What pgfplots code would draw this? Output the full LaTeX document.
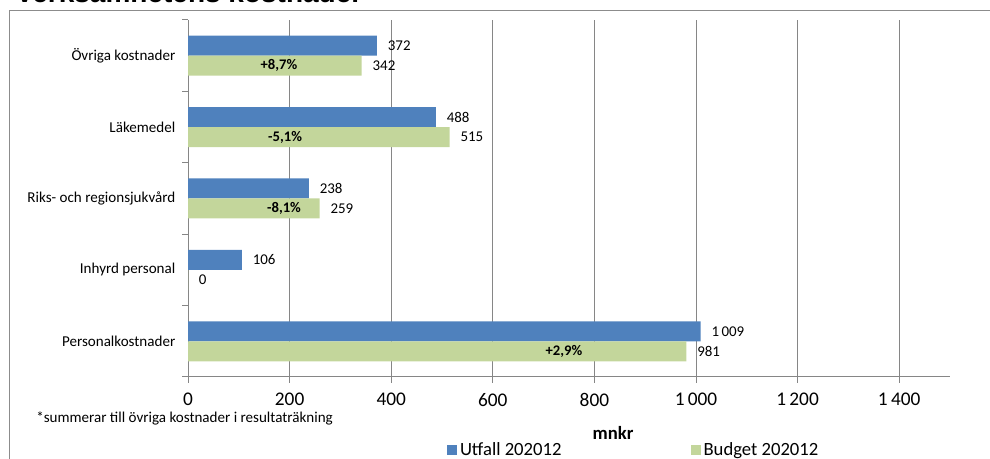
\documentclass[border=0pt]{standalone}
\usepackage{fontspec}
\setmainfont{Carlito}
\newfontfamily\titlefont{Liberation Sans}
\usepackage{pgfplots}
\pgfplotsset{compat=1.18}
\definecolor{cblue}{HTML}{4F81BD}
\definecolor{cgreen}{HTML}{C3D69B}
\definecolor{cgrid}{HTML}{868686}
\definecolor{cframe}{HTML}{8C8C8C}
\begin{document}
\begin{tikzpicture}
\path[use as bounding box, clip] (0,0) rectangle (742.5pt,344.25pt);
\begin{scope}[x=0.75pt,y=-0.75pt,shift={(0pt,344.25pt)}]
 \draw[cframe, line width=0.75pt] (9.5,470) -- (9.5,11) -- (1000,11);
 \node[anchor=base west, inner sep=0pt, font=\titlefont\bfseries\fontsize{21}{24}\selectfont] at (15,3) {Verksamhetens kostnader};
 \node[anchor=west, inner sep=0pt, font=\fontsize{11.3}{13}\selectfont] at (36,418) {*summerar till övriga kostnader i resultaträkning};
 \node[inner sep=0pt, font=\bfseries\fontsize{14}{16}\selectfont] at (613,433) {mnkr};
\end{scope}
\begin{axis}[
  at={(141pt,61.5pt)}, anchor=south west,
  scale only axis, width=571.5pt, height=267.75pt,
  xbar, bar width=15pt,
  xmin=0, xmax=1500, ymin=-0.5, ymax=4.5,
  axis lines*=left,
  axis line style={cgrid, line width=0.75pt},
  every tick/.style={cgrid, line width=0.75pt},
  tick align=outside, major tick length=4.5pt,
  xtick={0,200,...,1400},
  xticklabels={0,200,400,600,800,1\,000,1\,200,1\,400},
  x tick label style={font=\fontsize{14.5}{17}\selectfont, inner sep=0pt, yshift=-7.5pt},
  xmajorgrids, grid style={cgrid, line width=0.75pt},
  ytick={-0.5,0.5,...,4.5}, yticklabels={},
  extra y ticks={0,1,2,3,4},
  extra y tick labels={Personalkostnader,Inhyrd personal,Riks- och regionsjukvård,Läkemedel,Övriga kostnader},
  extra y tick style={grid=none, major tick length=0pt, tick style={draw=none},
     tick label style={font=\fontsize{11.3}{13}\selectfont, xshift=-6pt}},
  point meta=explicit symbolic,
  nodes near coords, nodes near coords align={horizontal},
  every node near coord/.append style={anchor=west, inner sep=0pt, xshift=8pt, font=\fontsize{11.2}{13}\selectfont, black},
  legend columns=2,
  legend style={draw=none, fill=none, at={(0.340,-0.205)}, anchor=west, inner sep=0pt,
     font=\fontsize{14}{16}\selectfont,
     /tikz/every even column/.append style={column sep=95pt}},
  legend image code/.code={\fill[#1] (0pt,-3.75pt) rectangle (7.5pt,3.75pt);},
  clip=false,
]
\addplot[fill=cblue, draw=none, bar shift=7.5pt] coordinates {(1009,0)[1\,009] (106,1)[106] (238,2)[238] (488,3)[488] (372,4)[372]};
\addplot[fill=cgreen, draw=none, bar shift=-7.5pt] coordinates {(981,0)[981] (0,1)[0] (259,2)[259] (515,3)[515] (342,4)[342]};
\legend{Utfall 202012, Budget 202012}
\node[font=\bfseries\fontsize{11}{13}\selectfont, yshift=-7.5pt] at (axis cs:179,4) {+8,7\%};
\node[font=\bfseries\fontsize{11}{13}\selectfont, yshift=-7.5pt] at (axis cs:191,3) {-5,1\%};
\node[font=\bfseries\fontsize{11}{13}\selectfont, yshift=-7.5pt] at (axis cs:189,2) {-8,1\%};
\node[font=\bfseries\fontsize{11}{13}\selectfont, yshift=-7.5pt] at (axis cs:740,0) {+2,9\%};
\end{axis}
\end{tikzpicture}
\end{document}
